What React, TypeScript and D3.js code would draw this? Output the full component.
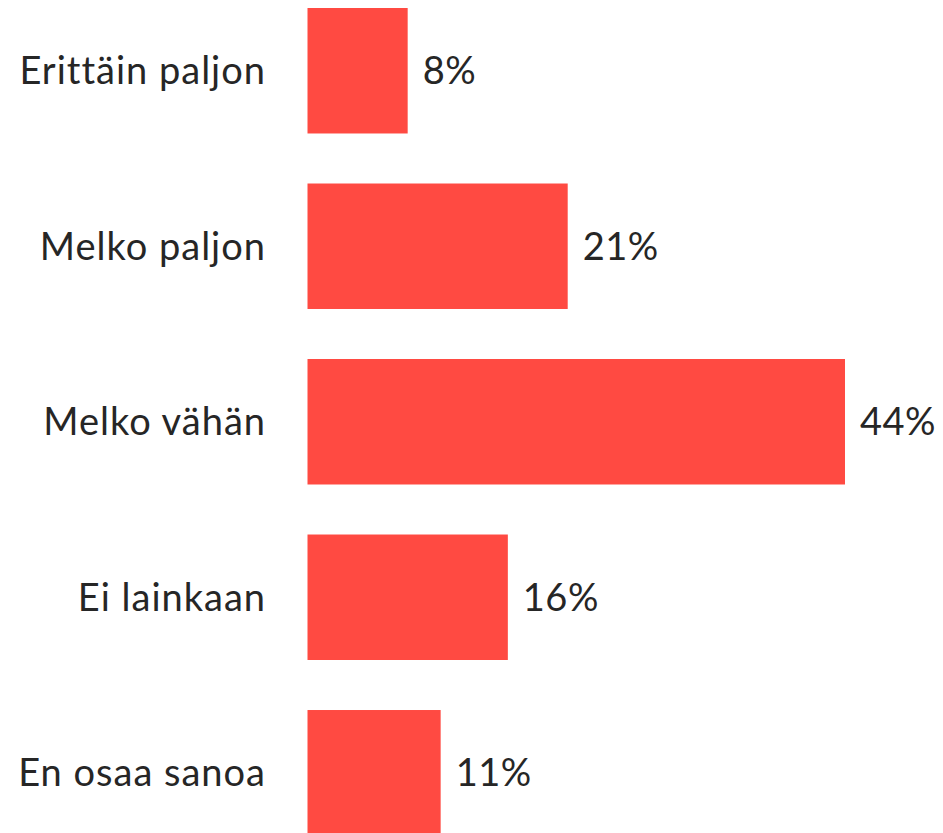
import React from "react";
import * as d3 from "d3";

const categories = ["Erittäin paljon", "Melko paljon", "Melko vähän", "Ei lainkaan", "En osaa sanoa"];
const values = [8.2, 21.3, 44, 16.4, 10.9];

const W = 943;
const H = 833;

export default function App() {
  const y = d3.scaleBand<string>().domain(categories).range([8, 835.5]).paddingInner(0.285).paddingOuter(0);
  const x = d3.scaleLinear().domain([0, 44]).range([307.5, 845]);
  const font = "Lato, 'Open Sans', sans-serif";
  return (
    <svg width={W} height={H} style={{ position: "absolute", left: 0, top: 0, background: "#fff" }}>
      {categories.map((c, i) => {
        const yc = (y(c) as number) + y.bandwidth() / 2;
        return (
          <g key={c}>
            <rect x={x(0)} y={y(c)} width={x(values[i]) - x(0)} height={y.bandwidth()} fill="#FF4A42" />
            <text x={266} y={yc} dy="0.35em" textAnchor="end" fontFamily={font} fontSize={38} letterSpacing={1} fill="#262626">
              {c}
            </text>
            <text x={x(values[i]) + 15} y={yc} dy="0.35em" textAnchor="start" fontFamily={font} fontSize={38} letterSpacing={0.5} fill="#262626">
              {Math.round(values[i]) + "%"}
            </text>
          </g>
        );
      })}
    </svg>
  );
}
